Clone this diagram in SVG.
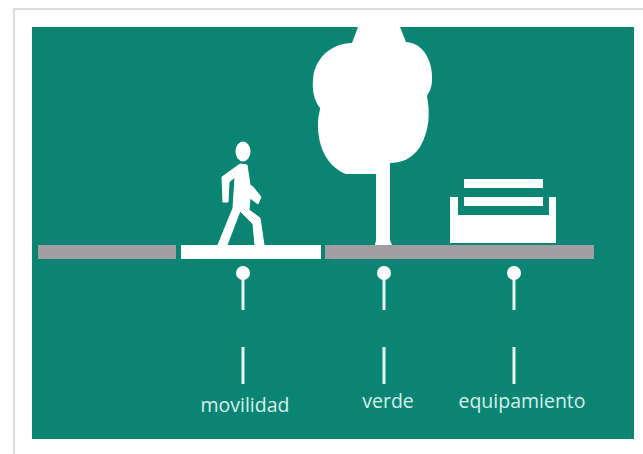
<svg xmlns="http://www.w3.org/2000/svg" width="643" height="454" viewBox="0 0 643 454">
<style>
.w{fill:#fff}
.g{fill:#a19da1}
.l{stroke:#e6f5f2;stroke-width:3;fill:none}
text{font-family:"Open Sans","Noto Sans","Liberation Sans",sans-serif;font-size:19.5px;fill:#d6f0ec;text-anchor:middle}
</style>
<rect width="643" height="454" fill="#fff"/>
<path d="M14 454V9H643" fill="none" stroke="#dcdcdc" stroke-width="2"/>
<rect x="32" y="27" width="602" height="412" fill="#0a8573" id="panel"/>
<g id="road">
<rect class="g" x="38" y="245" width="138" height="14"/>
<rect class="w" x="181" y="245" width="140" height="14"/>
<rect class="g" x="325" y="245" width="269" height="14"/>
</g>
<g id="peaton">
<ellipse class="w" cx="243" cy="151.5" rx="7.5" ry="10"/>
<path class="w" stroke="#fff" stroke-linejoin="round" d="M240 164L247 165L250 185L253 187L261 197L258 204L250 198L249 210L260 218L264 245H255L253 224L240 211L227 245H218L233 208L235 177L229 182L228 202H223L222 177Z"/>
</g>
<g id="arbol">
<path class="w" d="M358 27C361 20 398 20 400 27L406 42C424 43 433 62 432 80C432 88 429 92 427 96C430 112 430 130 420 147C411 160 400 163 390 163V240L392 245H375L376 240V174H346C330 168 317 150 318 122C318 116 320 112 320 108C314 100 312 90 313 80C314 58 332 43 352 43Z"/>
</g>
<g id="banco">
<rect class="w" x="464" y="179" width="79" height="9"/>
<rect class="w" x="464" y="197" width="79" height="9"/>
<path class="w" d="M450 197H458V215H549V197H556V243H450Z"/>
</g>
<g id="conectores">
<path class="l" d="M243 275V310M243 347V384M384 275V310M384 347V384M514 275V310M514 347V384"/>
</g>
<g id="pin-movilidad"><circle class="w" cx="243" cy="273" r="7"/><text x="245" y="412">movilidad</text></g>
<g id="pin-verde"><circle class="w" cx="384" cy="273" r="7"/><text x="388" y="408">verde</text></g>
<g id="pin-equipamiento"><circle class="w" cx="514" cy="273" r="7"/><text x="522" y="408">equipamiento</text></g>
</svg>
